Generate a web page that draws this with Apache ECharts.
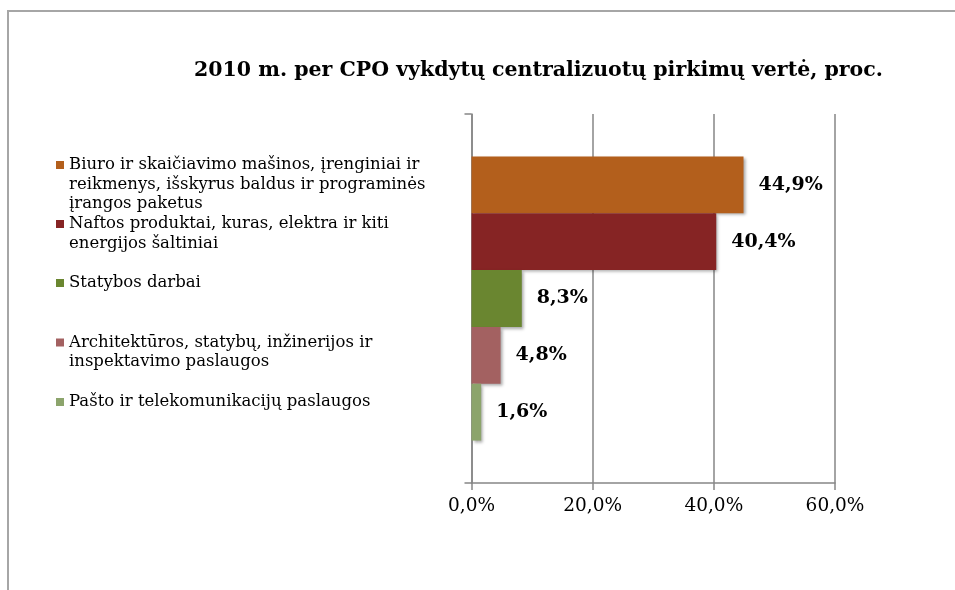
<!DOCTYPE html>
<html>
<head>
<meta charset="utf-8">
<script src="https://cdn.jsdelivr.net/npm/echarts@6/dist/echarts.min.js"></script>
<style>
html,body{margin:0;padding:0;background:#fff;}
#chart{width:955px;height:590px;}
</style>
</head>
<body>
<div id="chart"></div>
<script>
const titleText = '2010 m. per CPO vykdytų centralizuotų pirkimų vertė, proc.';
const seriesNames = [
  'Biuro ir skaičiavimo mašinos, įrenginiai ir reikmenys, išskyrus baldus ir programinės įrangos paketus',
  'Naftos produktai, kuras, elektra ir kiti energijos šaltiniai',
  'Statybos darbai',
  'Architektūros, statybų, inžinerijos ir inspektavimo paslaugos',
  'Pašto ir telekomunikacijų paslaugos'
];
const legendLines = [
  ['Biuro ir skaičiavimo mašinos, įrenginiai ir', 'reikmenys, išskyrus baldus ir programinės', 'įrangos paketus'],
  ['Naftos produktai, kuras, elektra ir kiti', 'energijos šaltiniai'],
  ['Statybos darbai'],
  ['Architektūros, statybų, inžinerijos ir', 'inspektavimo paslaugos'],
  ['Pašto ir telekomunikacijų paslaugos']
];
const values = [44.9, 40.4, 8.3, 4.8, 1.6];
const colors = ['#B35F1C', '#862424', '#6A8630', '#A36161', '#8CA46C'];
const xTicks = [0, 20, 40, 60];

const fmt = v => v.toFixed(1).replace('.', ',') + '%';
const FONT = 'DejaVu Serif';
const LH = 19.5;
const legendCenters = [165, 224, 283, 342.5, 402];

const legends = seriesNames.map((name, i) => {
  const lines = legendLines[i];
  const padded = Array(lines.length - 1).fill(' ').concat(lines).join('\n');
  const n = 2 * lines.length - 1;
  return {
    data: [name],
    left: 56,
    top: legendCenters[i] - n * LH / 2,
    padding: 0,
    orient: 'vertical',
    icon: 'rect',
    itemWidth: 8,
    itemHeight: 8,
    selectedMode: false,
    formatter: () => padded,
    textStyle: { fontFamily: FONT, fontSize: 16.5, color: '#000', lineHeight: LH }
  };
});

const series = seriesNames.map((name, i) => ({
  name: name,
  type: 'bar',
  data: [values[i]],
  barGap: '0%',
  barCategoryGap: '23%',
  itemStyle: {
    color: colors[i],
    shadowBlur: 3,
    shadowOffsetX: 2,
    shadowOffsetY: 2,
    shadowColor: 'rgba(0,0,0,0.35)'
  },
  label: {
    show: true,
    position: 'right',
    distance: 15,
    formatter: p => fmt(p.value),
    fontFamily: FONT,
    fontWeight: 'bold',
    fontSize: 19,
    color: '#000'
  }
}));

const chart = echarts.init(document.getElementById('chart'), null, { renderer: 'canvas' });
chart.setOption({
  animation: false,
  backgroundColor: '#fff',
  title: {
    text: titleText,
    left: 189,
    top: 55,
    textStyle: { fontFamily: FONT, fontWeight: 'bold', fontSize: 20.5, color: '#000' }
  },
  legend: legends,
  graphic: [{
    type: 'polyline',
    shape: { points: [[8, 590], [8, 11], [955, 11]] },
    style: { stroke: '#a6a6a6', lineWidth: 2, fill: null },
    silent: true
  }],
  grid: { left: 471.5, right: 120, top: 114, bottom: 107 },
  xAxis: {
    type: 'value',
    min: xTicks[0],
    max: xTicks[xTicks.length - 1],
    interval: 20,
    axisLine: { show: true, lineStyle: { color: '#868686', width: 1.5 } },
    axisTick: { show: true, length: 7, lineStyle: { color: '#868686', width: 1.5 } },
    splitLine: { show: true, lineStyle: { color: '#868686', width: 1.5 } },
    axisLabel: { formatter: v => fmt(v), fontFamily: FONT, fontSize: 18.5, color: '#000', margin: 14 }
  },
  yAxis: {
    type: 'category',
    data: [''],
    inverse: true,
    axisLine: { show: true, lineStyle: { color: '#868686', width: 1.5 } },
    axisTick: { show: true, length: 7, lineStyle: { color: '#868686', width: 1.5 } },
    axisLabel: { show: false }
  },
  series: series
});
</script>
</body>
</html>
